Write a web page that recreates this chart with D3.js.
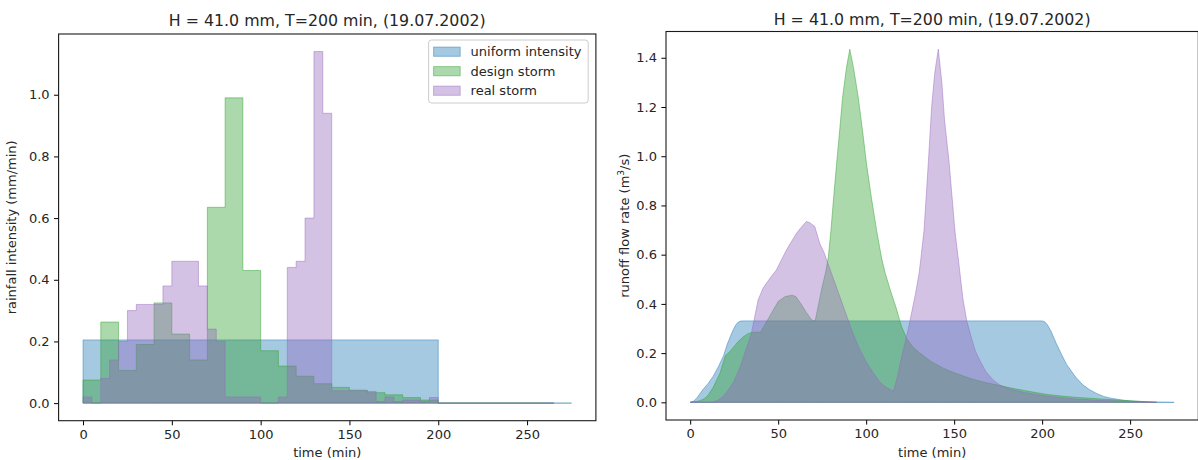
<!DOCTYPE html>
<html><head><meta charset="utf-8">
<script src="https://cdn.jsdelivr.net/npm/d3@7"></script>
<style>
body{margin:0;background:#fff}
svg{display:block}
text{font-family:"DejaVu Sans",sans-serif;fill:#262626}
</style>
</head><body>
<svg id="c" width="1198" height="460"></svg>
<script>
// ---------- DATA ----------
const chartTitle = "H = 41.0 mm, T=200 min, (19.07.2002)";
const seriesNames = ["uniform intensity", "design storm", "real storm"];

// Left: rainfall intensity hyetographs (step, value holds until next time)
const uniformRainT = [0, 200, 275];
const uniformRainV = [0.205, 0];
const designRainT = [0,10,20,30,40,50,60,70,80,90,100,110,120,130,140,150,160,170,180,190,200,265];
const designRainV = [0.075,0.263,0.106,0.19,0.325,0.224,0.14,0.635,0.99,0.43,0.17,0.12,0.087,0.063,0.051,0.042,0.034,0.027,0.018,0.01,0];
const realRainT = [0,5,10,15,20,25,30,35,40,45,50,55,60,65,70,75,80,85,90,95,100,105,110,115,120,125,130,135,140,145,150,155,160,165,170,175,180,185,190,195,200,265];
const realRainV = [0.02,0,0.08,0.14,0.2,0.3,0.32,0.32,0.32,0.38,0.46,0.46,0.46,0.38,0.24,0.2,0.02,0.02,0.02,0.02,0,0,0.02,0.44,0.46,0.6,1.14,0.94,0.04,0.04,0.04,0.04,0.038,0.005,0.02,0.005,0.01,0.01,0.005,0.018,0];

// Right: runoff hydrographs
const uniformFlowT = [0,2,4,7,10,13,16,19,21,23.5,25.5,27,28.5,30,200,201.5,203,205,208,211,214,217,219.5,223,227,231,235,239,242.5,246,250,255,260,267,275];
const uniformFlowQ = [0,0.005,0.02,0.05,0.075,0.105,0.145,0.19,0.235,0.28,0.31,0.324,0.33,0.331,0.331,0.327,0.315,0.29,0.24,0.195,0.153,0.123,0.099,0.072,0.051,0.036,0.024,0.017,0.013,0.009,0.006,0.004,0.002,0.001,0];
const designFlowT = [0,5,8,10,13,17,20,23,27,30,33,36,40,42,46,50,54,58,60,63,66,69,71,73,75,77,78.5,80,81.6,83.2,85,86.6,88.8,90.7,92.8,95.5,98,100.2,103,105.9,108.8,111,114,117,120,123,126.5,130.5,137,143.5,150,160,168,176,183,190,197,204,212,220,233,250,265];
const designFlowQ = [0,0.005,0.015,0.028,0.06,0.12,0.19,0.21,0.245,0.265,0.28,0.285,0.285,0.31,0.36,0.41,0.43,0.435,0.43,0.40,0.365,0.335,0.33,0.40,0.47,0.53,0.59,0.70,0.84,0.97,1.11,1.24,1.36,1.435,1.36,1.24,1.1,0.97,0.83,0.70,0.585,0.52,0.45,0.385,0.31,0.26,0.225,0.2,0.165,0.14,0.12,0.095,0.08,0.068,0.057,0.048,0.039,0.031,0.025,0.02,0.014,0.006,0];
const realFlowT = [0,13,16,18.7,21,24.4,27,29.2,31,32.9,34.8,36.7,38.6,41.4,45.3,49,54.7,60.4,63,66,68,70.8,73.6,76,78,80,84,88,92,96,100,104,108,112,115.5,118,120,122,124,126,128,130,131,132.9,135.3,137.2,139,141,143,144.5,147.2,150.4,152.9,155,157.2,159.5,162,164.6,168,172,176,180,185,190,200,210,220,233,250,265];
const realFlowQ = [0,0,0.01,0.024,0.045,0.079,0.12,0.16,0.2,0.24,0.281,0.349,0.416,0.464,0.504,0.538,0.619,0.687,0.71,0.735,0.73,0.714,0.646,0.61,0.57,0.53,0.45,0.37,0.29,0.22,0.165,0.12,0.08,0.058,0.045,0.11,0.18,0.24,0.30,0.37,0.44,0.52,0.578,0.70,0.97,1.2,1.34,1.435,1.30,1.15,0.97,0.70,0.55,0.42,0.33,0.27,0.21,0.17,0.125,0.092,0.07,0.058,0.048,0.04,0.028,0.02,0.013,0.008,0.003,0];

const xTicks = [0,50,100,150,200,250];
const yTicksLeft = [0,0.2,0.4,0.6,0.8,1.0];
const yTicksRight = [0,0.2,0.4,0.6,0.8,1.0,1.2,1.4];

// ---------- STYLE / LAYOUT ----------
const colors = ["#1f77b4", "#2ca02c", "#9467bd"];
const svg = d3.select("#c");

function padDomain(lo, hi){ const r = hi - lo; return [lo - 0.05*r, hi + 0.05*r]; }

function frame(box, xDom, yDom){
  const x = d3.scaleLinear().domain(xDom).range([box.l, box.r]);
  const y = d3.scaleLinear().domain(yDom).range([box.b, box.t]);
  return {x, y};
}

function drawAxes(g, box, sc, yTicks, ylabelParts, ylabelX, titleY){
  const ax = g.append("g").attr("transform", `translate(0,${box.b})`)
    .call(d3.axisBottom(sc.x).tickValues(xTicks).tickFormat(d3.format("d")).tickSize(4.6).tickPadding(4.4));
  ax.select(".domain").remove();
  ax.selectAll("line").attr("stroke","#000").attr("stroke-width",1);
  ax.selectAll("text").attr("font-size",13).style("fill","#262626").attr("font-family","DejaVu Sans");
  const ay = g.append("g").attr("transform", `translate(${box.l},0)`)
    .call(d3.axisLeft(sc.y).tickValues(yTicks).tickFormat(d3.format(".1f")).tickSize(4.6).tickPadding(4.4));
  ay.select(".domain").remove();
  ay.selectAll("line").attr("stroke","#000").attr("stroke-width",1);
  ay.selectAll("text").attr("font-size",13).style("fill","#262626").attr("font-family","DejaVu Sans");
  g.append("rect").attr("x",box.l).attr("y",box.t).attr("width",box.r-box.l).attr("height",box.b-box.t)
    .attr("fill","none").attr("stroke","#1a1a1a").attr("stroke-width",1.1);
  g.append("text").attr("x",(box.l+box.r)/2).attr("y",titleY).attr("text-anchor","middle")
    .attr("font-size",15.8).text(chartTitle);
  g.append("text").attr("x",(box.l+box.r)/2).attr("y",456.5).attr("text-anchor","middle")
    .attr("font-size",13).text("time (min)");
  const yl = g.append("text").attr("transform",`translate(${ylabelX},${(box.t+box.b)/2}) rotate(-90)`)
    .attr("text-anchor","middle").attr("font-size",13);
  ylabelParts(yl);
}

function drawFill(g, sc, pts, color, curve){
  const area = d3.area().x(d=>sc.x(d[0])).y0(sc.y(0)).y1(d=>sc.y(d[1])).curve(curve);
  g.append("path").attr("d", area(pts))
    .attr("fill", color).attr("fill-opacity",0.4)
    .attr("stroke", color).attr("stroke-opacity",0.45).attr("stroke-width",1)
    .attr("stroke-linejoin","round");
}

// ---------- LEFT CHART ----------
const boxL = {l:58.6, r:595.9, t:34, b:420.7};
const rainSets = [[uniformRainT, uniformRainV],[designRainT, designRainV],[realRainT, realRainV]];
const rainMax = d3.max(rainSets, s => d3.max(s[1]));
const tMax = d3.max([uniformRainT, designRainT, realRainT], a => d3.max(a));
const scL = frame(boxL, padDomain(0, tMax), padDomain(0, rainMax));
const gL = svg.append("g");
const gLfill = gL.append("g");
rainSets.forEach((s, i) => {
  const [T, V] = s;
  const pts = T.map((t, k) => [t, k < V.length ? V[k] : V[V.length-1]]);
  drawFill(gLfill, scL, pts, colors[i], d3.curveStepAfter);
});
drawAxes(gL, boxL, scL, yTicksLeft, t => t.text("rainfall intensity (mm/min)"), 15.5, 26.3);

// legend
const lg = gL.append("g");
const legX = 428.6, legY = 40, legW = 159.6, legH = 63;
lg.append("rect").attr("x",legX).attr("y",legY).attr("width",legW).attr("height",legH).attr("rx",3)
  .attr("fill","#fff").attr("fill-opacity",0.8).attr("stroke","#cccccc").attr("stroke-width",1);
seriesNames.forEach((name, i) => {
  const cy = legY + 11.7 + i*19.5;
  lg.append("rect").attr("x",legX+5).attr("y",cy-4.6).attr("width",26.6).attr("height",9.2)
    .attr("fill",colors[i]).attr("fill-opacity",0.4).attr("stroke",colors[i]).attr("stroke-opacity",0.45);
  lg.append("text").attr("x",legX+42).attr("y",cy).attr("dy","0.36em").attr("font-size",13).text(name);
});

// ---------- RIGHT CHART ----------
const boxR = {l:666, r:1198.3, t:31.5, b:420};
const flowSets = [[uniformFlowT, uniformFlowQ],[designFlowT, designFlowQ],[realFlowT, realFlowQ]];
const flowMax = d3.max(flowSets, s => d3.max(s[1]));
const tMaxR = d3.max(flowSets, s => d3.max(s[0]));
const scR = frame(boxR, padDomain(0, tMaxR), padDomain(0, flowMax));
const gR = svg.append("g");
flowSets.forEach((s, i) => {
  const [T, Q] = s;
  const pts = T.map((t, k) => [t, Q[k]]);
  drawFill(gR, scR, pts, colors[i], d3.curveLinear);
});
drawAxes(gR, boxR, scR, yTicksRight, t => {
  t.append("tspan").text("runoff flow rate (m");
  t.append("tspan").attr("font-size",9).attr("dy",-5).text("3");
  t.append("tspan").attr("dy",5).text("/s)");
}, 628.8, 25);
</script>
</body></html>
